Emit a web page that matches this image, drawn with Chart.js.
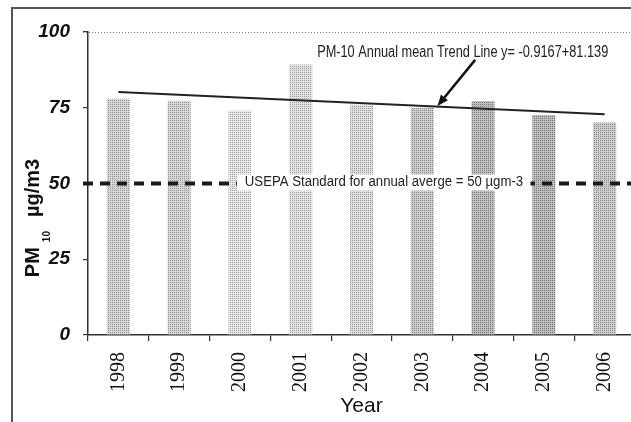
<!DOCTYPE html>
<html>
<head>
<meta charset="utf-8">
<script src="https://cdn.jsdelivr.net/npm/chart.js@4/dist/chart.umd.min.js"></script>
<style>
  html, body { margin: 0; padding: 0; background: #fff; width: 631px; height: 422px; overflow: hidden; }
  #wrap { position: relative; width: 640px; height: 422px; }
  #frame { position: absolute; left: 11px; top: 7px; width: 700px; height: 500px;
           border-left: 2px solid #555; border-top: 2px solid #555; pointer-events: none; }
</style>
</head>
<body>
<div id="wrap">
  <canvas id="chart"></canvas>
  <div id="frame"></div>
</div>
<script>
// Annual mean PM10 concentration (µg/m3) by year
const years = ['1998', '1999', '2000', '2001', '2002', '2003', '2004', '2005', '2006'];
const pm10Annual = [78, 77.3, 74, 89.3, 76, 75, 77.2, 72.6, 70.1];

// Trend line y = -0.9167x + 81.139, evaluated at the first and last year (x = 1 and x = 9)
const trendLine = [80.22, null, null, null, null, null, null, null, 72.89];

// US EPA annual standard
const usepaStandard = 50;

const yTicks = [0, 25, 50, 75, 100];

// grey level of each stippled bar
const barShade = [198, 198, 214, 210, 206, 188, 174, 172, 188];

// halftone dot fill: one dark dot in every 2x2 cell
function stipple(level) {
  const c = document.createElement('canvas');
  c.width = 2; c.height = 2;
  const g = c.getContext('2d');
  const lo = Math.max(0, level - 54), hi = Math.min(255, Math.round((4 * level - lo) / 3));
  g.fillStyle = `rgb(${hi},${hi},${hi})`; g.fillRect(0, 0, 2, 2);
  g.fillStyle = `rgb(${lo},${lo},${lo})`; g.fillRect(0, 0, 1, 1);
  return g.createPattern(c, 'repeat');
}

function fitText(ctx, text, font, x0, x1, y) {
  ctx.font = font;
  const w = ctx.measureText(text).width;
  ctx.save();
  ctx.translate(x0, y);
  ctx.scale((x1 - x0) / w, 1);
  ctx.fillText(text, 0, 0);
  ctx.restore();
}

const decorations = {
  id: 'decorations',
  beforeDatasetsDraw(chart) {
    const { ctx, chartArea, scales: { y } } = chart;
    ctx.save();
    ctx.strokeStyle = '#777';
    ctx.lineWidth = 1;
    ctx.setLineDash([1, 2]);
    const yp = Math.round(y.getPixelForValue(100)) + 0.5;
    ctx.beginPath();
    ctx.moveTo(chartArea.left - 5, yp);
    ctx.lineTo(chart.width, yp);
    ctx.stroke();
    ctx.restore();
  },
  afterDatasetsDraw(chart) {
    const { ctx, chartArea, scales: { x, y } } = chart;
    ctx.save();
    // standard line
    const ys = y.getPixelForValue(usepaStandard);
    ctx.strokeStyle = '#1a1a1a';
    ctx.lineWidth = 4;
    ctx.setLineDash([10, 7]);
    ctx.beginPath();
    ctx.moveTo(chartArea.left - 5, ys);
    ctx.lineTo(chart.width, ys);
    ctx.stroke();
    ctx.setLineDash([]);
    const bx0 = x.getPixelForValue(1.95), bx1 = x.getPixelForValue(6.78);
    ctx.fillStyle = '#fff';
    ctx.fillRect(bx0, ys - 9, bx1 - bx0, 16);
    ctx.fillStyle = '#222';
    ctx.textBaseline = 'alphabetic';
    fitText(ctx, 'USEPA Standard for annual averge = 50 µgm-3', '14px "Liberation Sans"',
            x.getPixelForValue(2.08), x.getPixelForValue(6.66), ys + 2);

    // trend line label
    fitText(ctx, 'PM-10 Annual mean Trend Line y= -0.9167+81.139', '16px "Liberation Sans"',
            x.getPixelForValue(3.27), x.getPixelForValue(8.06), y.getPixelForValue(91.6));

    // arrow to the trend line
    const ax0 = x.getPixelForValue(5.87), ay0 = y.getPixelForValue(90.8);
    const ax1 = x.getPixelForValue(5.25), ay1 = y.getPixelForValue(75.6);
    const ang = Math.atan2(ay1 - ay0, ax1 - ax0);
    const head = 11, half = 4.5;
    const hx = ax1 - head * Math.cos(ang), hy = ay1 - head * Math.sin(ang);
    ctx.strokeStyle = '#111';
    ctx.lineWidth = 2.5;
    ctx.beginPath();
    ctx.moveTo(ax0, ay0);
    ctx.lineTo(hx, hy);
    ctx.stroke();
    ctx.fillStyle = '#111';
    ctx.beginPath();
    ctx.moveTo(ax1, ay1);
    ctx.lineTo(hx + half * Math.sin(ang), hy - half * Math.cos(ang));
    ctx.lineTo(hx - half * Math.sin(ang), hy + half * Math.cos(ang));
    ctx.closePath();
    ctx.fill();
    ctx.restore();
  },
  afterDraw(chart) {
    // y axis title with subscript
    const ctx = chart.ctx;
    const parts = [
      { t: 'PM', f: 'bold 20px "Liberation Sans"', dy: 0, gap: 5 },
      { t: '10', f: 'bold 10px "Liberation Sans"', dy: 11, gap: 14 },
      { t: 'µg/m3', f: 'bold 20px "Liberation Sans"', dy: 0, gap: 0 }
    ];
    let total = 0;
    parts.forEach(p => { ctx.font = p.f; p.w = ctx.measureText(p.t).width; total += p.w + p.gap; });
    ctx.save();
    ctx.translate(39, 218);
    ctx.rotate(-Math.PI / 2);
    ctx.fillStyle = '#111';
    ctx.textBaseline = 'alphabetic';
    let cx = -total / 2;
    parts.forEach(p => { ctx.font = p.f; ctx.fillText(p.t, cx, p.dy); cx += p.w + p.gap; });
    ctx.restore();
  }
};

new Chart(document.getElementById('chart'), {
  type: 'bar',
  data: {
    labels: years,
    datasets: [
      {
        type: 'line',
        data: trendLine,
        spanGaps: true,
        borderColor: '#222',
        borderWidth: 2,
        pointRadius: 0,
        fill: false,
        order: 0
      },
      {
        data: pm10Annual,
        backgroundColor: barShade.map(stipple),
        borderWidth: 0,
        categoryPercentage: 1,
        barPercentage: 0.38,
        order: 1
      }
    ]
  },
  options: {
    responsive: true,
    maintainAspectRatio: false,
    animation: false,
    events: [],
    layout: { padding: { top: 32, right: 5, bottom: 0, left: 0 } },
    plugins: { legend: { display: false }, tooltip: { enabled: false } },
    scales: {
      x: {
        grid: { offset: true, drawOnChartArea: false, tickLength: 6, color: '#333', lineWidth: 1.2 },
        border: { color: '#333', width: 1.5 },
        ticks: {
          autoSkip: false, minRotation: 90, maxRotation: 90, padding: 11,
          color: '#111', font: { family: 'Liberation Serif', size: 20 }
        },
        title: {
          display: true, text: 'Year', color: '#111',
          font: { family: 'Liberation Sans', size: 21 }, padding: { top: 0, bottom: 3 }
        },
        afterFit(s) { s.height = 87; }
      },
      y: {
        min: 0, max: 100,
        afterBuildTicks(s) { s.ticks = yTicks.map(v => ({ value: v })); },
        grid: { drawOnChartArea: false, tickLength: 5, color: '#333', lineWidth: 1.2 },
        border: { color: '#333', width: 1.5 },
        ticks: {
          padding: 13, color: '#111',
          font: { family: '"Liberation Sans", Arial, sans-serif', size: 19, weight: 'bold', style: 'italic' }
        },
        afterFit(s) { s.width = 88; }
      }
    }
  },
  plugins: [decorations]
});
</script>
</body>
</html>
